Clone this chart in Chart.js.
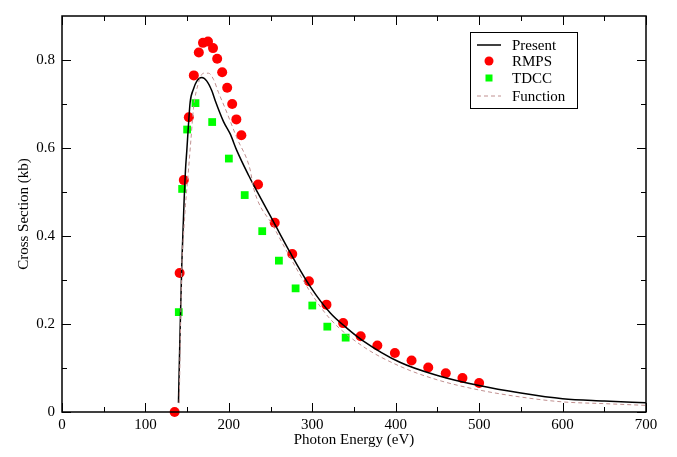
<!DOCTYPE html>
<html>
<head>
<meta charset="utf-8">
<script src="https://cdn.jsdelivr.net/npm/chart.js@4.4.0/dist/chart.umd.min.js"></script>
<style>
  html, body { margin: 0; padding: 0; background: #fff; }
  canvas { display: block; }
</style>
</head>
<body>
<canvas id="chart" width="677" height="457"></canvas>
<script>
const FONT = "'Liberation Serif', 'Times New Roman', serif";

// Present (solid black curve)
const presentE = [139.6, 141.6, 143.6, 146.4, 148, 149.6, 151.6, 153.6, 157.6, 161.6, 167.6, 173.6, 179.6, 183.6, 193.6, 201.6, 209.6, 223.6, 229.6, 253.6, 273.6, 297.6, 321.6, 340, 360, 405, 450, 500, 550, 600, 650, 700];
const presentV = [0.021, 0.189, 0.336, 0.483, 0.55, 0.594, 0.653, 0.704, 0.734, 0.752, 0.760, 0.752, 0.730, 0.708, 0.660, 0.632, 0.594, 0.538, 0.516, 0.432, 0.362, 0.285, 0.225, 0.193, 0.163, 0.113, 0.083, 0.060, 0.043, 0.030, 0.025, 0.021];

// RMPS (red circles)
const rmpsE = [135, 141, 146, 152, 158, 164, 169, 175, 181, 186, 192, 198, 204, 209, 215, 235, 255, 276, 296, 317, 337, 358, 378, 399, 419, 439, 460, 480, 500];
const rmpsV = [0, 0.316, 0.527, 0.670, 0.765, 0.817, 0.839, 0.842, 0.827, 0.803, 0.772, 0.737, 0.700, 0.665, 0.629, 0.517, 0.430, 0.359, 0.297, 0.244, 0.202, 0.172, 0.151, 0.134, 0.117, 0.101, 0.088, 0.077, 0.066];

// TDCC (green squares)
const tdccE = [140, 144, 150, 160, 180, 200, 219, 240, 260, 280, 300, 318, 340];
const tdccV = [0.227, 0.507, 0.642, 0.702, 0.659, 0.576, 0.493, 0.411, 0.344, 0.281, 0.242, 0.194, 0.169];

// Function (dashed curve)
const functionE = [140.5, 143.6, 145.6, 148, 151.6, 154.4, 157.6, 163.6, 169.6, 175.6, 181.6, 187.6, 195.6, 209.6, 225.6, 229.6, 253.6, 273.6, 297.6, 321.6, 360, 405, 450, 500, 550, 600, 650, 700];
const functionV = [0.02, 0.33, 0.40, 0.47, 0.55, 0.616, 0.690, 0.748, 0.770, 0.770, 0.756, 0.726, 0.690, 0.623, 0.550, 0.509, 0.421, 0.351, 0.273, 0.211, 0.150, 0.104, 0.073, 0.050, 0.034, 0.023, 0.019, 0.015];

// Axes
const xMajor = [0, 100, 200, 300, 400, 500, 600, 700];
const xMinor = [50, 150, 250, 350, 450, 550, 650];
const yMajor = [0, 0.2, 0.4, 0.6, 0.8];
const yMinor = [0.1, 0.3, 0.5, 0.7];

const RED = "#ff0000";
const GREEN = "#00ff00";
const DASH_COLOR = "#c09090";

function toPoints(xs, ys) {
  return xs.map((x, i) => ({ x, y: ys[i] }));
}

// frame and inward ticks on all four sides
const frameTicks = {
  id: "frameTicks",
  afterDraw(chart) {
    const { ctx, chartArea: a, scales: { x, y } } = chart;
    ctx.save();
    ctx.strokeStyle = "#000";
    ctx.lineWidth = 1.5;
    ctx.strokeRect(a.left, a.top, a.right - a.left, a.bottom - a.top);
    ctx.lineWidth = 1;
    const seg = (x1, y1, x2, y2) => {
      ctx.beginPath();
      ctx.moveTo(x1, y1);
      ctx.lineTo(x2, y2);
      ctx.stroke();
    };
    const xt = (vals, len) => vals.forEach((v) => {
      const px = Math.round(x.getPixelForValue(v)) + 0.5;
      seg(px, a.bottom, px, a.bottom - len);
      seg(px, a.top, px, a.top + len);
    });
    const yt = (vals, len) => vals.forEach((v) => {
      const py = Math.round(y.getPixelForValue(v)) + 0.5;
      seg(a.left, py, a.left + len, py);
      seg(a.right, py, a.right - len, py);
    });
    xt(xMajor, 9);
    xt(xMinor, 5);
    yt(yMajor, 9);
    yt(yMinor, 5);
    ctx.restore();
  },
};

// boxed legend in the upper right of the plot
const boxLegend = {
  id: "boxLegend",
  afterDraw(chart) {
    const { ctx } = chart;
    const left = 470, top = 32, w = 107, h = 76;
    ctx.save();
    ctx.fillStyle = "#fff";
    ctx.fillRect(left, top, w, h);
    ctx.strokeStyle = "#000";
    ctx.lineWidth = 1;
    ctx.strokeRect(left + 0.5, top + 0.5, w, h);

    const rows = [45, 61, 78, 96];
    ctx.font = `15px ${FONT}`;
    ctx.fillStyle = "#000";
    ctx.textBaseline = "middle";
    ["Present", "RMPS", "TDCC", "Function"].forEach((t, i) => {
      ctx.fillText(t, 512, rows[i] + 1);
    });

    ctx.strokeStyle = "#000";
    ctx.lineWidth = 1.5;
    ctx.beginPath();
    ctx.moveTo(477, rows[0]);
    ctx.lineTo(501, rows[0]);
    ctx.stroke();

    ctx.fillStyle = RED;
    ctx.beginPath();
    ctx.arc(489, rows[1], 4.5, 0, Math.PI * 2);
    ctx.fill();

    ctx.fillStyle = GREEN;
    ctx.fillRect(485.5, rows[2] - 3.5, 7, 7);

    ctx.strokeStyle = DASH_COLOR;
    ctx.lineWidth = 1;
    ctx.setLineDash([4, 3]);
    ctx.beginPath();
    ctx.moveTo(477, rows[3]);
    ctx.lineTo(501, rows[3]);
    ctx.stroke();
    ctx.restore();
  },
};

new Chart(document.getElementById("chart"), {
  type: "scatter",
  data: {
    datasets: [
      {
        label: "Function",
        type: "line",
        data: toPoints(functionE, functionV),
        borderColor: DASH_COLOR,
        borderWidth: 1,
        borderDash: [4, 3],
        pointRadius: 0,
        fill: false,
        cubicInterpolationMode: "monotone",
      },
      {
        label: "Present",
        type: "line",
        data: toPoints(presentE, presentV),
        borderColor: "#000",
        borderWidth: 1.5,
        pointRadius: 0,
        fill: false,
        cubicInterpolationMode: "monotone",
      },
      {
        label: "TDCC",
        data: toPoints(tdccE, tdccV),
        pointStyle: "rect",
        pointRadius: 5.5,
        backgroundColor: GREEN,
        borderWidth: 0,
        clip: false,
      },
      {
        label: "RMPS",
        data: toPoints(rmpsE, rmpsV),
        pointStyle: "circle",
        pointRadius: 5,
        backgroundColor: RED,
        borderWidth: 0,
        clip: false,
      },
    ],
  },
  options: {
    responsive: false,
    animation: false,
    layout: { padding: { top: 5, right: 31, left: 0, bottom: 0 } },
    plugins: {
      legend: { display: false },
      tooltip: { enabled: false },
    },
    scales: {
      x: {
        type: "linear",
        min: 0,
        max: 700,
        afterBuildTicks: (s) => { s.ticks = xMajor.map((v) => ({ value: v })); },
        afterFit: (s) => { s.height = 45; },
        grid: { display: false, drawTicks: false },
        border: { display: false },
        ticks: {
          padding: 4,
          color: "#000",
          font: { family: FONT, size: 15 },
          maxRotation: 0,
        },
        title: {
          display: true,
          text: "Photon Energy (eV)",
          color: "#000",
          font: { family: FONT, size: 15 },
          padding: { top: 0, bottom: 8 },
        },
      },
      y: {
        type: "linear",
        min: 0,
        max: 0.9,
        afterBuildTicks: (s) => { s.ticks = yMajor.map((v) => ({ value: v })); },
        afterFit: (s) => { s.width = 62; },
        grid: { display: false, drawTicks: false },
        border: { display: false },
        ticks: {
          padding: 7,
          color: "#000",
          font: { family: FONT, size: 15 },
          callback: (v) => (v === 0 ? "0" : v.toFixed(1)),
        },
        title: {
          display: true,
          text: "Cross Section (kb)",
          color: "#000",
          font: { family: FONT, size: 15 },
          padding: { top: 15, bottom: 0 },
        },
      },
    },
  },
  plugins: [frameTicks, boxLegend],
});
</script>
</body>
</html>
